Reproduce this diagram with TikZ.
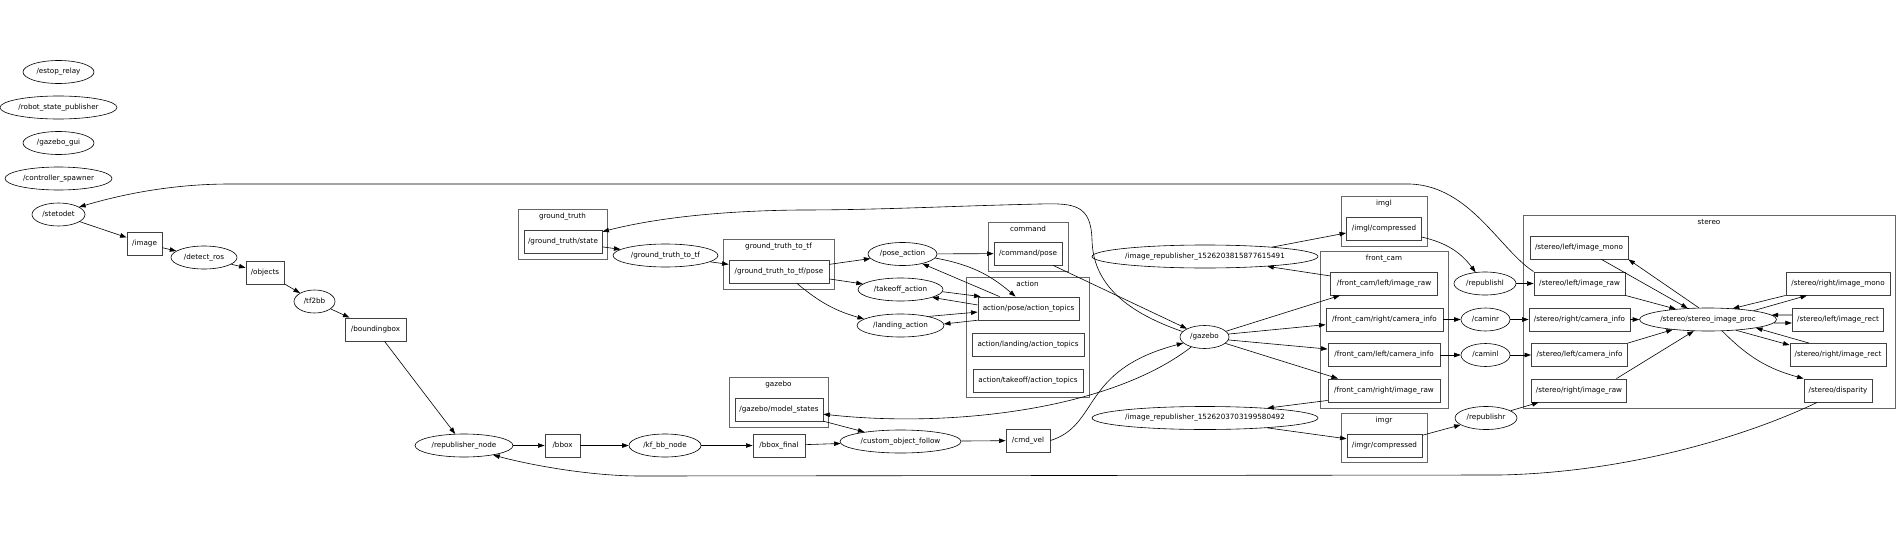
\documentclass[tikz,border=0pt]{standalone}
\usepackage{fontspec}
\setmainfont{DejaVu Sans}
\usetikzlibrary{arrows.meta,shapes.geometric}
\begin{document}
\begin{tikzpicture}[x=1pt,y=-1pt,
  every node/.style={font=\fontsize{7.2}{8.6}\selectfont, inner sep=0pt, text height=5.5pt, text depth=1.7pt},
  rn/.style={ellipse, draw=black, line width=0.6pt, minimum height=23pt},
  tp/.style={rectangle, draw=black!75, line width=0.9pt, minimum height=23pt},
  cl/.style={rectangle, draw=black!60, line width=0.9pt},
  clab/.style={anchor=base},
  e/.style={draw=black, line width=0.6pt, -{Triangle[length=6.5pt,width=4.5pt]}},
]
\useasboundingbox (0,0) rectangle (1898,551);
\fill[white] (0,0) rectangle (1898,551);

% clusters
\node[cl, minimum width=89pt, minimum height=50pt] (c_gt) at (562.5,234) {};
\node[clab] (c_gt_l) at ([yshift=-10pt]c_gt.north) {ground\_truth};
\node[cl, minimum width=111pt, minimum height=50pt] (c_gtt) at (778.5,264) {};
\node[clab] (c_gtt_l) at ([yshift=-10pt]c_gtt.north) {ground\_truth\_to\_tf};
\node[cl, minimum width=99pt, minimum height=50pt] (c_gz) at (778.5,402) {};
\node[clab] (c_gz_l) at ([yshift=-10pt]c_gz.north) {gazebo};
\node[cl, minimum width=80pt, minimum height=49pt] (c_cmd) at (1028,246.5) {};
\node[clab] (c_cmd_l) at ([yshift=-10pt]c_cmd.north) {command};
\node[cl, minimum width=123pt, minimum height=120pt] (c_act) at (1027.5,337) {};
\node[clab] (c_act_l) at ([yshift=-10pt]c_act.north) {action};
\node[cl, minimum width=86pt, minimum height=50pt] (c_imgl) at (1384,221) {};
\node[clab] (c_imgl_l) at ([yshift=-10pt]c_imgl.north) {imgl};
\node[cl, minimum width=128pt, minimum height=157pt] (c_fc) at (1384,329.5) {};
\node[clab] (c_fc_l) at ([yshift=-10pt]c_fc.north) {front\_cam};
\node[cl, minimum width=86pt, minimum height=49pt] (c_imgr) at (1384,437.5) {};
\node[clab] (c_imgr_l) at ([yshift=-10pt]c_imgr.north) {imgr};
\node[cl, minimum width=372pt, minimum height=193pt] (c_st) at (1709,311.5) {};
\node[clab] (c_st_l) at ([yshift=-10pt]c_st.north) {stereo};

% ros nodes (ellipses)
\node[rn, minimum width=71pt] (estop) at (58.5,72) {/estop\_relay};
\node[rn, minimum width=117pt] (rsp) at (58.5,107.5) {/robot\_state\_publisher};
\node[rn, minimum width=71pt] (gzgui) at (58.5,143) {/gazebo\_gui};
\node[rn, minimum width=107pt] (ctrl) at (58.5,178.5) {/controller\_spawner};
\node[rn, minimum width=53pt] (stetodet) at (58.5,214.5) {/stetodet};
\node[rn, minimum width=66pt] (detect) at (204,257.5) {/detect\_ros};
\node[rn, minimum width=41pt] (tf2bb) at (314.5,301.5) {/tf2bb};
\node[rn, minimum width=105pt] (gttf) at (665.5,255.5) {/ground\_truth\_to\_tf};
\node[rn, minimum width=69pt] (poseact) at (902.5,254) {/pose\_action};
\node[rn, minimum width=85pt] (takeoff) at (900.5,289.5) {/takeoff\_action};
\node[rn, minimum width=87pt] (landing) at (900.5,325.5) {/landing\_action};
\node[rn, minimum width=98pt] (repnode) at (464,445.5) {/republisher\_node};
\node[rn, minimum width=72pt] (kfbb) at (665,445.5) {/kf\_bb\_node};
\node[rn, minimum width=121pt] (cof) at (900.5,441.5) {/custom\_object\_follow};
\node[rn, minimum width=49pt] (gazebo) at (1204.5,337) {/gazebo};
\node[rn, minimum width=220pt] (imgrep1) at (1205,256.5) {/image\_republisher\_1526203815877615491};
\node[rn, minimum width=220pt] (imgrep2) at (1205,418) {/image\_republisher\_1526203703199580492};
\node[rn, minimum width=62pt] (republishl) at (1485,283.5) {/republishl};
\node[rn, minimum width=49pt] (caminr) at (1485.5,319.5) {/caminr};
\node[rn, minimum width=49pt] (caminl) at (1485.5,355) {/caminl};
\node[rn, minimum width=62pt] (republishr) at (1486,418) {/republishr};
\node[rn, minimum width=137pt] (proc) at (1708,319.5) {/stereo/stereo\_image\_proc};

% topics (boxes)
\node[tp, minimum width=35pt] (image) at (144.5,243.5) {/image};
\node[tp, minimum width=38pt] (objects) at (265,272.5) {/objects};
\node[tp, minimum width=61pt] (bndbox) at (375.5,329.5) {/boundingbox};
\node[tp, minimum width=78pt] (gtstate) at (563,241.5) {/ground\_truth/state};
\node[tp, minimum width=100pt] (gttfpose) at (779,271.5) {/ground\_truth\_to\_tf/pose};
\node[tp, minimum width=88pt] (modelstates) at (779,409.5) {/gazebo/model\_states};
\node[tp, minimum width=35pt] (bbox) at (562.5,445.5) {/bbox};
\node[tp, minimum width=52pt] (bboxfinal) at (779,445.5) {/bbox\_final};
\node[tp, minimum width=68pt] (cmdpose) at (1028,253.5) {/command/pose};
\node[tp, minimum width=101pt] (actpose) at (1028.5,308.5) {action/pose/action\_topics};
\node[tp, minimum width=112pt] (actland) at (1028,344.5) {action/landing/action\_topics};
\node[tp, minimum width=110pt] (acttake) at (1028,380.5) {action/takeoff/action\_topics};
\node[tp, minimum width=44pt] (cmdvel) at (1028,440.5) {/cmd\_vel};
\node[tp, minimum width=75pt] (imglc) at (1384,229) {/imgl/compressed};
\node[tp, minimum width=107pt] (fclir) at (1384,283.5) {/front\_cam/left/image\_raw};
\node[tp, minimum width=117pt] (fcrci) at (1384.5,319.5) {/front\_cam/right/camera\_info};
\node[tp, minimum width=112pt] (fclci) at (1384,355) {/front\_cam/left/camera\_info};
\node[tp, minimum width=112pt] (fcrir) at (1384,390.5) {/front\_cam/right/image\_raw};
\node[tp, minimum width=75pt] (imgrc) at (1384.5,445.5) {/imgr/compressed};
\node[tp, minimum width=98pt] (slm) at (1579,247.5) {/stereo/left/image\_mono};
\node[tp, minimum width=91pt] (slr) at (1579.5,283.5) {/stereo/left/image\_raw};
\node[tp, minimum width=101pt] (src) at (1579.5,319.5) {/stereo/right/camera\_info};
\node[tp, minimum width=96pt] (slc) at (1579.5,355) {/stereo/left/camera\_info};
\node[tp, minimum width=95pt] (srr) at (1579,390.5) {/stereo/right/image\_raw};
\node[tp, minimum width=104pt] (srm) at (1838,283.5) {/stereo/right/image\_mono};
\node[tp, minimum width=91.5pt] (slrect) at (1838,319.5) {/stereo/left/image\_rect};
\node[tp, minimum width=96pt] (srrect) at (1838,355) {/stereo/right/image\_rect};
\node[tp, minimum width=68pt] (sdisp) at (1838,390.5) {/stereo/disparity};

% edges: left chain
\draw[e] (stetodet) -- (image);
\draw[e] (image) -- (detect);
\draw[e] (detect) -- (objects);
\draw[e] (objects) -- (tf2bb);
\draw[e] (tf2bb) -- (bndbox);
\draw[e] (bndbox) -- (repnode);
\draw[e] (repnode) -- (bbox);
\draw[e] (bbox) -- (kfbb);
\draw[e] (kfbb) -- (bboxfinal);
\draw[e] (bboxfinal) -- (cof);
\draw[e] (modelstates) -- (cof);
\draw[e] (cof) -- (cmdvel);
\draw[e] (cmdvel.east) .. controls (1100,425) and (1080,370) .. (gazebo.196);
\draw[e] (cmdpose) -- (gazebo);
\draw[e] (gazebo.166) .. controls (1120,310) and (1093,280) .. (1092,240)
  .. controls (1091,205) and (1075,203) .. (1040,204)
  .. controls (950,206) and (880,210) .. (800,210)
  .. controls (700,211) and (640,222) .. (gtstate.14);
\draw[e] (gazebo.217) .. controls (1110,410) and (950,428) .. (modelstates.-6);

% ground truth / actions
\draw[e] (gtstate) -- (gttf);
\draw[e] (gttf) -- (gttfpose);
\draw[e] (gttfpose) -- (poseact);
\draw[e] (gttfpose) -- (takeoff);
\draw[e] ([xshift=18pt]gttfpose.south) to[bend right=12] (landing);
\draw[e] (poseact) -- (cmdpose);
\draw[e] (poseact.-7) to[bend left=15] ([xshift=-13pt]actpose.north);
\draw[e] ([xshift=-29pt]actpose.north) -- (poseact.-26);
\draw[e] (takeoff.-3) -- (actpose.166);
\draw[e] (actpose.176) -- (takeoff.-14);
\draw[e] (landing.18) -- (actpose.-176);
\draw[e] (actpose.-167) -- (landing.2);

% gazebo -> front_cam
\draw[e] (gazebo.15) -- ([xshift=-44pt]fclir.south);
\draw[e] (gazebo.7) -- (fcrci.185);
\draw[e] (gazebo.-7) -- (fclci.174);
\draw[e] (gazebo.-17) -- ([xshift=-46pt]fcrir.north);
\draw[e] (fclir.172) -- (imgrep1.-9);
\draw[e] (imgrep1.8) -- (imglc.186);
\draw[e] (fcrir.190) -- (imgrep2.9);
\draw[e] (imgrep2.-9) -- (imgrc.170);
\draw[e] (imglc.-12) to[bend left=20] (republishl.130);
\draw[e] (imgrc) -- (republishr);
\draw[e] (fcrci) -- (caminr);
\draw[e] (fclci) -- (caminl);
\draw[e] (republishl) -- (slr);
\draw[e] (caminr) -- (src);
\draw[e] (caminl) -- (slc);
\draw[e] (republishr) -- (srr);

% long edges
\draw[e] (slr.north west) .. controls (1500,250) and (1470,186) .. (1410,184)
  -- (230,184) .. controls (170,184) and (120,195) .. (stetodet.20);
\draw[e] ([xshift=-21pt]sdisp.south) .. controls (1760,430) and (1640,472) .. (1500,475)
  -- (640,476) .. controls (590,476) and (530,465) .. (repnode.-18);

% stereo internals
\draw[e] (slm.-28) -- (proc.151);
\draw[e] (proc.128) -- (slm.south east);
\draw[e] (slr.south east) -- (proc.162);
\draw[e] (src) -- (proc);
\draw[e] (slc.north east) -- (proc.-164);
\draw[e] ([xshift=37.5pt]srr.north) -- (proc.-141);
\draw[e] (srm.south west) -- (proc.24);
\draw[e] (proc.11) -- ([xshift=-31pt]srm.south);
\draw[e] ([yshift=4.5pt]slrect.west) -- (proc.4);
\draw[e] (proc.-3) -- ([yshift=-3.5pt]slrect.west);
\draw[e] (proc.-21) -- ([yshift=-2pt]srrect.north west);
\draw[e] ([xshift=-29pt]srrect.north) -- (proc.-10);
\draw[e] (proc.-39) to[bend right=15] (sdisp.north west);
\end{tikzpicture}
\end{document}
